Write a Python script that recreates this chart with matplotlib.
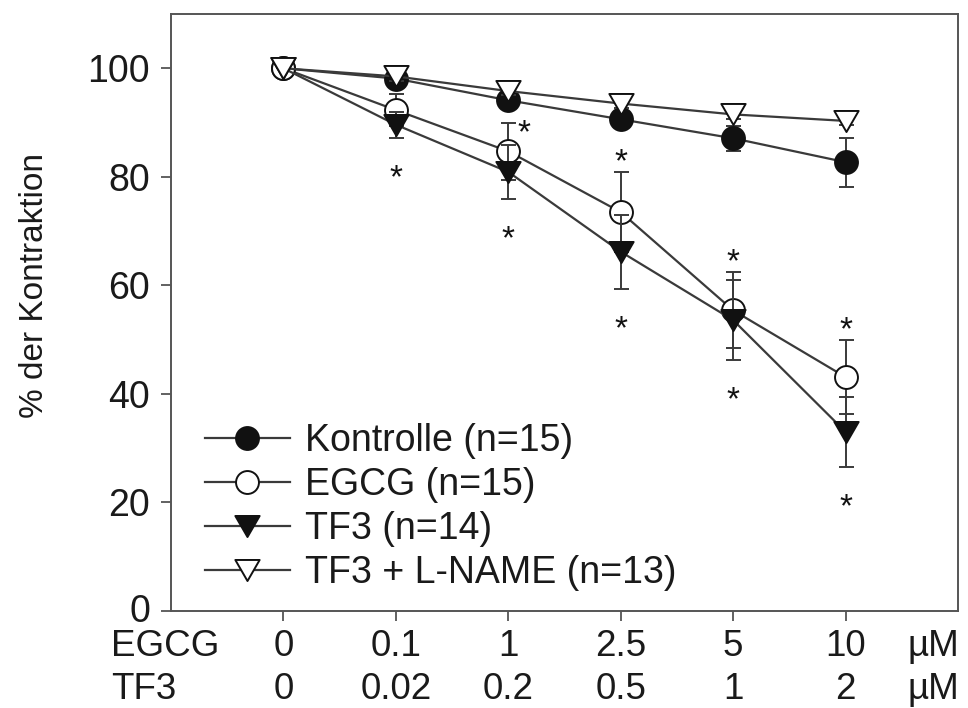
import matplotlib
matplotlib.use("Agg")
import matplotlib.pyplot as plt
from matplotlib.path import Path
from matplotlib.transforms import blended_transform_factory, ScaledTranslation
import numpy as np

plt.rcParams['font.family'] = ['Liberation Sans', 'DejaVu Sans']

# Concentrations (plotted at equally spaced positions)
egcg_conc = ["0", "0.1", "1", "2.5", "5", "10"]
tf3_conc = ["0", "0.02", "0.2", "0.5", "1", "2"]

# Mean contraction (% of control) and SEM
kontrolle = [100, 98.1, 94.1, 90.6, 87.1, 82.7]
kontrolle_err = [0, 1.0, 1.0, 1.2, 2.3, 4.5]
egcg = [100, 92.3, 84.7, 73.5, 55.4, 43.1]
egcg_err = [0, 3.0, 5.2, 7.4, 7.0, 6.8]
tf3 = [100, 89.6, 80.9, 66.2, 53.6, 33.0]
tf3_err = [0, 2.4, 5.0, 6.8, 7.4, 6.4]
tf3_lname = [100, 98.5, 95.8, 93.5, 91.5, 90.3]
tf3_lname_err = [0, 0.8, 0.8, 0.8, 0.8, 0.8]

labels = ["Kontrolle (n=15)", "EGCG (n=15)", "TF3 (n=14)", "TF3 + L-NAME (n=13)"]

# Significance flags (index of concentration) for EGCG (above) and TF3 (below)
egcg_sig = [2, 3, 4, 5]
tf3_sig = [1, 2, 3, 4, 5]

x = np.arange(len(egcg_conc))

# Equilateral down-pointing triangle marker
tri_down = Path([(-1, 0.866), (1, 0.866), (0, -0.866), (-1, 0.866)],
                [Path.MOVETO, Path.LINETO, Path.LINETO, Path.CLOSEPOLY])

fig = plt.figure(figsize=(9.68, 7.08), dpi=100)
ax = fig.add_axes([171 / 968, 1 - 611 / 708, (958 - 171) / 968, (611 - 14) / 708])

line_col = '#3a3a3a'
mk_col = '#111111'
series = [
    (kontrolle, kontrolle_err, 'o', mk_col, 16.5),
    (egcg, egcg_err, 'o', 'white', 16.5),
    (tf3, tf3_err, tri_down, mk_col, 17.5),
    (tf3_lname, tf3_lname_err, tri_down, 'white', 17.5),
]

handles = []
for i, (vals, err, mk, fc, ms) in enumerate(series):
    ax.errorbar(x, vals, yerr=err, fmt='none', ecolor=line_col, elinewidth=1.4,
                capsize=5.4, capthick=1.4, zorder=2 + i)
    h, = ax.plot(x, vals, color=line_col, lw=1.6, marker=mk, ms=ms,
                 mfc=fc, mec=mk_col, mew=1.4, zorder=2 + i, label=labels[i])
    handles.append(h)

# Significance asterisks
fs_star = 24


def star(xp, yp):
    ax.annotate('*', (xp, yp), xytext=(0, -0.58 * fs_star),
                textcoords='offset points', ha='center', va='baseline',
                fontsize=fs_star, color='#111111')


for i in egcg_sig:
    if i == 2:
        star(x[i] + 0.14, egcg[i] + egcg_err[i])
    else:
        star(x[i], egcg[i] + egcg_err[i] + 3.7)
for i in tf3_sig:
    star(x[i], tf3[i] - tf3_err[i] - 5.5)

ax.set_xlim(-1, 6)
ax.set_ylim(0, 110)
ax.set_yticks([0, 20, 40, 60, 80, 100])
ax.set_xticks(x)
ax.set_xticklabels([])
ax.tick_params(axis='both', direction='out', length=7, width=1.3, colors='#555555',
               labelcolor='#1a1a1a', labelsize=27)
ax.tick_params(axis='y', pad=8)
ax.tick_params(top=False, right=False)
for sp in ax.spines.values():
    sp.set_color('#555555')
    sp.set_linewidth(1.4)

# lift the zero label slightly so it sits clear of the concentration rows
fig.canvas.draw()
zero_lbl = ax.get_yticklabels()[0]
zero_lbl.set_transform(zero_lbl.get_transform() + ScaledTranslation(0, 3 / 100, fig.dpi_scale_trans))

# Two-row concentration labels below the axis
trans = blended_transform_factory(ax.transData, ax.transAxes)
fs_x = 26.5
row_y = [(611 - 656) / 597, (611 - 699) / 597]
for row, (name, concs) in enumerate([("EGCG", egcg_conc), ("TF3", tf3_conc)]):
    ax.text(-1.53, row_y[row], name, transform=trans, ha='left', va='baseline',
            fontsize=fs_x, color='#1a1a1a', clip_on=False)
    for xi, c in zip(x, concs):
        ax.text(xi, row_y[row], c, transform=trans, ha='center', va='baseline',
                fontsize=fs_x, color='#1a1a1a', clip_on=False)
    ax.text(5.78, row_y[row], "\u00b5M", transform=trans, ha='center', va='baseline',
            fontsize=fs_x, color='#1a1a1a', clip_on=False)

fig.text(35 / 968, 1 - 285 / 708, "% der Kontraktion", rotation=90,
         ha='center', va='center', fontsize=24, color='#1a1a1a')

leg = ax.legend(handles=handles, loc='lower left', bbox_to_anchor=(0.043, 0.034),
                frameon=False, fontsize=27, handlelength=2.27, handletextpad=0.4,
                labelspacing=0.21, borderpad=0, borderaxespad=0, numpoints=1)
for t in leg.get_texts():
    t.set_color('#1a1a1a')

fig.savefig("out.png", dpi=100)
